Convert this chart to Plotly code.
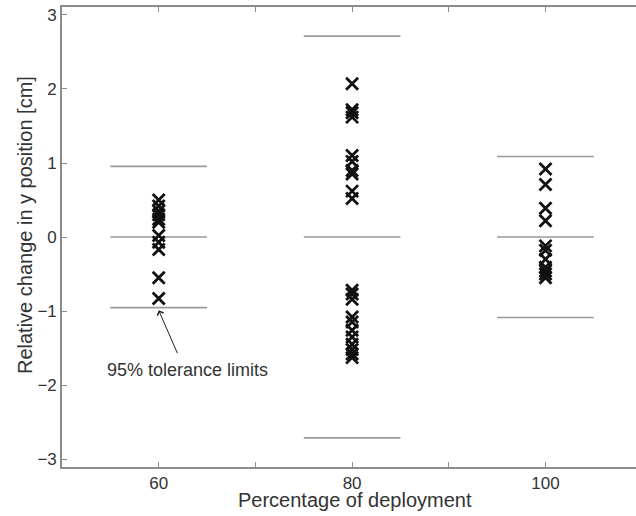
import plotly.graph_objects as go

# ---- data ----
groups = [60, 80, 100]
y60 = [0.5, 0.42, 0.35, 0.3, 0.24, 0.2, 0.02, -0.07, -0.17, -0.55, -0.83]
y80 = [2.07, 1.72, 1.68, 1.62, 1.1, 1.02, 0.9, 0.85, 0.62, 0.52,
       -0.72, -0.77, -0.84, -1.08, -1.15, -1.26, -1.35, -1.45, -1.52, -1.58, -1.63]
y100 = [0.92, 0.71, 0.39, 0.22, -0.12, -0.18, -0.3, -0.41, -0.46, -0.5, -0.55]
tol_limits = [0.955, 2.715, 1.088]   # 95% tolerance limits (±)
centre = [0, 0, 0]
half_width = 5
x_ticks = [60, 70, 80, 90, 100]
x_ticktext = ["60", "", "80", "", "100"]
y_ticks = [-3, -2, -1, 0, 1, 2, 3]

fig = go.Figure()

# tolerance / centre lines
lx, ly = [], []
for g, lim, c in zip(groups, tol_limits, centre):
    for val in (c + lim, c, c - lim):
        lx += [g - half_width, g + half_width, None]
        ly += [val, val, None]
fig.add_trace(go.Scatter(x=lx, y=ly, mode="lines",
                         line=dict(color="#9a9a9a", width=1.6),
                         showlegend=False, hoverinfo="skip"))

# data points
for g, ys in zip(groups, [y60, y80, y100]):
    fig.add_trace(go.Scatter(
        x=[g] * len(ys), y=ys, mode="markers",
        marker=dict(symbol="x-thin", size=12,
                    line=dict(color="#111111", width=2.8)),
        showlegend=False))

axis_col = "#8c8c8c"
font_col = "#333333"
fig.update_layout(
    width=636, height=516,
    margin=dict(l=62, r=0, t=7, b=49),
    paper_bgcolor="white", plot_bgcolor="white",
    font=dict(family="Liberation Sans, Arial, sans-serif", color=font_col, size=17),
    xaxis=dict(range=[50, 109.36], tickvals=x_ticks, ticktext=x_ticktext,
               ticks="inside", ticklen=5, tickcolor=axis_col, tickwidth=1,
               showline=True, linecolor=axis_col, linewidth=1.6, mirror="ticks",
               showgrid=False, zeroline=False, automargin=False,
               tickfont=dict(size=17, color=font_col)),
    yaxis=dict(range=[-3.108, 3.108], tickvals=y_ticks,
               ticks="inside", ticklen=5, tickcolor=axis_col, tickwidth=1,
               showline=True, linecolor=axis_col, linewidth=1.6,
               showgrid=False, zeroline=False, automargin=False,
               tickfont=dict(size=17, color=font_col)),
)

# axis titles
fig.add_annotation(text="Percentage of deployment", xref="paper", yref="paper",
                   x=0.5096, y=0, yshift=-33, xanchor="center", yanchor="middle",
                   showarrow=False, font=dict(size=20, color=font_col))
fig.add_annotation(text="Relative change in y position [cm]", xref="paper", yref="paper",
                   x=0, y=0.526, xshift=-37, xanchor="center", yanchor="middle",
                   textangle=-90, showarrow=False, font=dict(size=20, color=font_col))

# annotation: arrow and text
fig.add_annotation(x=60, y=-0.99, ax=62.0, ay=-1.59, xref="x", yref="y",
                   axref="x", ayref="y", text="", showarrow=True,
                   arrowhead=4, arrowsize=1.3, arrowwidth=1, arrowcolor="#222222")
fig.add_annotation(x=63.0, y=-1.8, xref="x", yref="y", text="95% tolerance limits",
                   showarrow=False, font=dict(size=18, color=font_col))

fig.write_html("out.html", config={"displayModeBar": False},
               post_script="document.body.style.margin='0';document.body.style.overflow='hidden';")
